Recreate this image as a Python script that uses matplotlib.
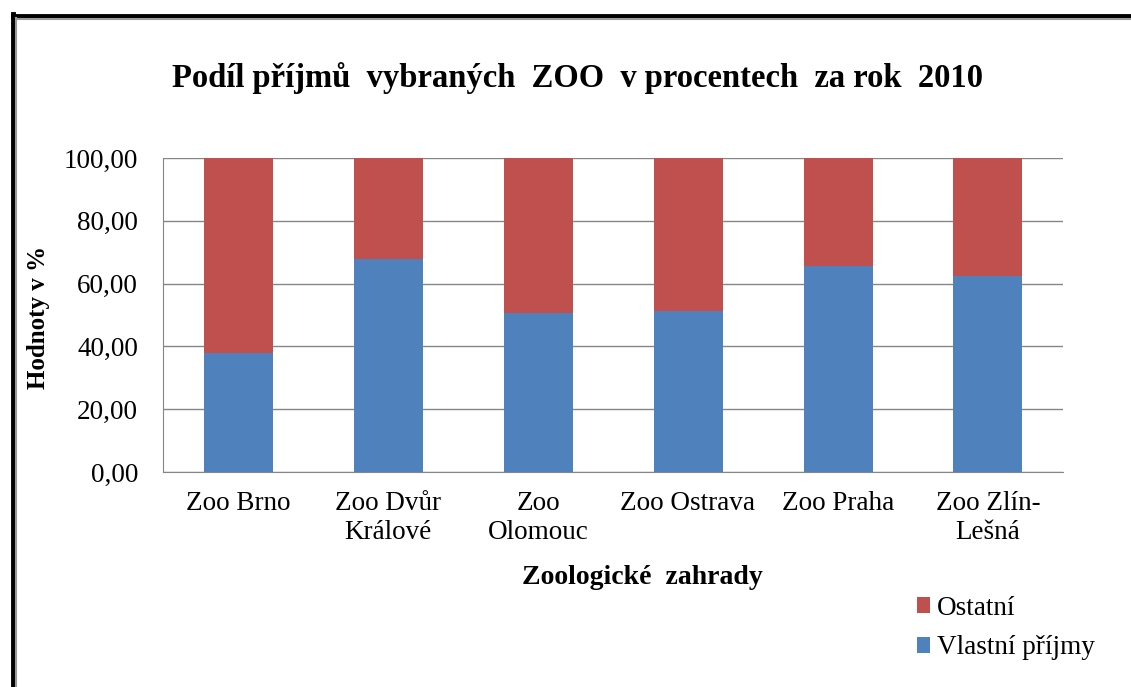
import matplotlib.pyplot as plt
import numpy as np
from matplotlib.lines import Line2D

# data
zoos = ['Zoo Brno', 'Zoo Dvůr\nKrálové', 'Zoo\nOlomouc', 'Zoo Ostrava', 'Zoo Praha', 'Zoo Zlín-\nLešná']
vlastni = [37.9, 67.7, 50.5, 51.2, 65.7, 62.4]
ostatni = [100 - v for v in vlastni]

plt.rcParams['font.family'] = ['Liberation Serif', 'DejaVu Serif']

fig = plt.figure(figsize=(11.31, 6.87), dpi=100)
ax = fig.add_axes([163 / 1131, 1 - 472 / 687, 900 / 1131, 314 / 687])

x = np.arange(len(zoos))
ax.bar(x, vlastni, width=0.46, color='#4F81BD', label='Vlastní příjmy', zorder=3)
ax.bar(x, ostatni, width=0.46, bottom=vlastni, color='#C0504D', label='Ostatní', zorder=3)

ax.set_xlim(-0.5, len(zoos) - 0.5)
ax.set_ylim(0, 100)
ax.set_yticks(np.arange(0, 101, 20))
ax.set_yticklabels([f'{v:.2f}'.replace('.', ',') for v in np.arange(0, 101, 20)], fontsize=19.5)
ax.set_xticks(x)
ax.set_xticklabels(zoos, fontsize=19.5, linespacing=1.2)
ax.tick_params(length=0)
ax.tick_params(axis='x', pad=14)
ax.tick_params(axis='y', pad=18)
ax.grid(axis='y', color='#868686', linewidth=1, zorder=0)
for s in ['top', 'right']:
    ax.spines[s].set_visible(False)
for s in ['left', 'bottom']:
    ax.spines[s].set_color('#868686')

fig.text(577 / 1131, 1 - 78 / 687, 'Podíl příjmů  vybraných  ZOO  v procentech  za rok  2010',
         ha='center', va='center', fontsize=23.5, fontweight='bold')
fig.text(642 / 1131, 1 - 578 / 687, 'Zoologické  zahrady', ha='center', va='center',
         fontsize=20, fontweight='bold')
fig.text(38 / 1131, 1 - 317 / 687, 'Hodnoty v %', ha='center', va='center', rotation=90,
         fontsize=18, fontweight='bold')

h, l = ax.get_legend_handles_labels()
fig.legend(h[::-1], l[::-1], loc='center left', bbox_to_anchor=(898 / 1131, 1 - 628 / 687),
           frameon=False, fontsize=19.5, handlelength=0.5, handleheight=0.5, handletextpad=0.25,
           labelspacing=0.55, borderpad=0.2)

# chart border with shadow (top and left edges)
fig.add_artist(Line2D([13 / 1131, 1], [1 - 16 / 687, 1 - 16 / 687], color='black', linewidth=3.5))
fig.add_artist(Line2D([15 / 1131, 1], [1 - 19 / 687, 1 - 19 / 687], color='#9a9a9a', linewidth=1.5))
fig.add_artist(Line2D([13 / 1131, 13 / 1131], [0, 1 - 14 / 687], color='black', linewidth=3.5))
fig.add_artist(Line2D([16 / 1131, 16 / 1131], [0, 1 - 18 / 687], color='#9a9a9a', linewidth=1.5))

fig.savefig('out.png', dpi=100)
